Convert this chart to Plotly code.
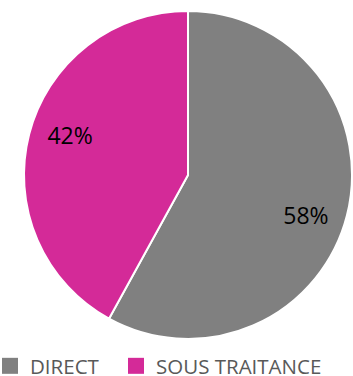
import plotly.graph_objects as go

categories = ["DIRECT", "SOUS TRAITANCE"]
values = [58, 42]
colors = ["#808080", "#D42A98"]

W, H = 353, 376
B = 30                      # bottom margin holding the legend
PH = H - B                  # plot-area height
cx, cy, r = 188, 175, 164   # pie centre / radius in pixels

dom = dict(x=[(cx - r) / W, (cx + r) / W], y=[(PH - cy - r) / PH, (PH - cy + r) / PH])

fig = go.Figure()
fig.add_trace(go.Pie(
    labels=categories,
    values=values,
    marker=dict(colors=colors, line=dict(color="white", width=2)),
    sort=False,
    direction="clockwise",
    rotation=0,
    textinfo="none",
    domain=dom,
    hoverinfo="skip",
    showlegend=False,
))
# transparent ring that only carries the percentage labels (places them at ~0.76 r,
# nudged slightly clockwise like the reference's label placement)
fig.add_trace(go.Pie(
    labels=categories,
    values=values,
    hole=0.52,
    marker=dict(colors=["rgba(0,0,0,0)"] * len(values), line=dict(width=0)),
    sort=False,
    direction="clockwise",
    rotation=4.5,
    textinfo="percent",
    textposition="inside",
    insidetextorientation="horizontal",
    textfont=dict(family="Open Sans", size=23, color="black"),
    domain=dom,
    showlegend=False,
    hoverinfo="skip",
))

# legend entries (square swatches), one legend per category
legend_text_x = [31, 157]
for i, (name, col) in enumerate(zip(categories, colors)):
    fig.add_trace(go.Scatter(
        x=[None], y=[None], mode="markers", name=name,
        marker=dict(symbol="square", size=16, color=col, line=dict(width=0)),
        legend="legend" if i == 0 else f"legend{i + 1}",
        hoverinfo="skip",
    ))

leg_common = dict(
    orientation="h", xanchor="left", y=-(366 - PH) / PH, yanchor="middle",
    font=dict(family="Open Sans", size=20.5, color="#595959"),
    itemclick=False, itemdoubleclick=False,
    bgcolor="rgba(0,0,0,0)",
)

fig.update_layout(
    width=W, height=H,
    margin=dict(l=0, r=0, t=0, b=B, pad=0, autoexpand=False),
    paper_bgcolor="white",
    plot_bgcolor="rgba(0,0,0,0)",
    showlegend=True,
    xaxis=dict(visible=False),
    yaxis=dict(visible=False),
    legend=dict(x=(legend_text_x[0] - 41) / W, **leg_common),
    legend2=dict(x=(legend_text_x[1] - 41) / W, **leg_common),
)

fig.write_html("out.html", config={"displayModeBar": False},
               post_script="document.body.style.margin='0';")
